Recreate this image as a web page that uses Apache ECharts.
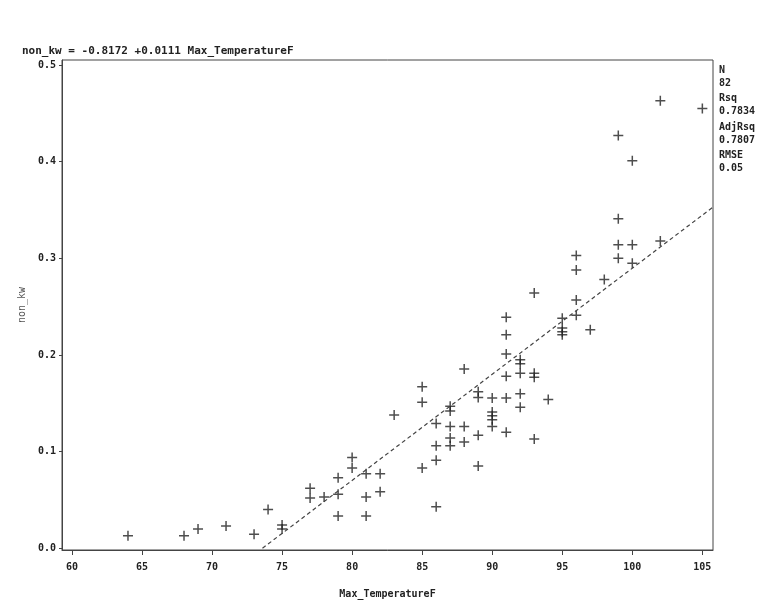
<!DOCTYPE html>
<html>
<head>
<meta charset="utf-8">
<script src="https://cdn.jsdelivr.net/npm/echarts@6/dist/echarts.min.js"></script>
<style>
	html, body { margin: 0; padding: 0; background: #fff; }
	#main { width: 764px; height: 612px; }
</style>
</head>
<body>
<div id="main"></div>
<script>
// observed points: Max_TemperatureF vs non_kw
var tempF = [64, 68, 69, 71, 73, 74, 75, 75, 77, 77,
	78, 79, 79, 79, 80, 80, 81, 81, 81, 82,
	82, 83, 85, 85, 85, 86, 86, 86, 86, 87,
	87, 87, 87, 87, 88, 88, 88, 89, 89, 89,
	89, 90, 90, 90, 90, 90, 91, 91, 91, 91,
	91, 91, 92, 92, 92, 92, 92, 93, 93, 93,
	93, 94, 95, 95, 95, 95, 96, 96, 96, 96,
	97, 98, 99, 99, 99, 99, 100, 100, 100, 102,
	102, 105];
var nonKw = [0.013, 0.013, 0.020, 0.023, 0.0145, 0.040, 0.024, 0.020, 0.062, 0.052,
	0.053, 0.073, 0.056, 0.0335, 0.094, 0.083, 0.077, 0.053, 0.0335, 0.077,
	0.0586, 0.138, 0.167, 0.151, 0.083, 0.129, 0.106, 0.091, 0.043, 0.147,
	0.142, 0.126, 0.114, 0.106, 0.1855, 0.126, 0.110, 0.162, 0.156, 0.117,
	0.085, 0.1555, 0.141, 0.137, 0.133, 0.126, 0.239, 0.221, 0.201, 0.178,
	0.1555, 0.120, 0.195, 0.191, 0.181, 0.160, 0.146, 0.264, 0.181, 0.177,
	0.113, 0.154, 0.238, 0.228, 0.224, 0.221, 0.303, 0.288, 0.257, 0.241,
	0.226, 0.278, 0.427, 0.341, 0.314, 0.300, 0.401, 0.314, 0.295, 0.463,
	0.318, 0.455];

// fitted line end points
var fitX = [73.6, 105.76];
var fitY = [0.0, 0.353];

var xTicks = [60, 65, 70, 75, 80, 85, 90, 95, 100, 105];
var yTicks = [0, 0.1, 0.2, 0.3, 0.4, 0.5];

var fitTitle = 'non_kw = -0.8172 +0.0111 Max_TemperatureF';
var statNames = ['N', 'Rsq', 'AdjRsq', 'RMSE'];
var statValues = ['82', '0.7834', '0.7807', '0.05'];

var mono = '"DejaVu Sans Mono", monospace';
var plus = 'path://M4.25 0H5.75V4.25H10V5.75H5.75V10H4.25V5.75H0V4.25H4.25Z';

var pts = tempF.map(function(t, i) { return [t, nonKw[i]]; });
var fitLine = fitX.map(function(t, i) { return [t, fitY[i]]; });

// right side statistics block
var statTexts = [];
var statTop = 65;
statNames.forEach(function(name, i) {
	statTexts.push({ type: 'text', left: 719, top: statTop, style: { text: name, font: 'bold 10px ' + mono, fill: '#222' } });
	statTexts.push({ type: 'text', left: 719, top: statTop + 13, style: { text: statValues[i], font: 'bold 10px ' + mono, fill: '#222' } });
	statTop += 28.5;
});

var myChart = echarts.init(document.getElementById('main'));
myChart.setOption({
	backgroundColor: '#fff',
	animation: false,
	title: {
		text: fitTitle,
		left: 17,
		top: 41,
		textStyle: { fontFamily: mono, fontSize: 11, fontWeight: 'bold', color: '#222' }
	},
	graphic: statTexts,
	grid: {
		left: 62,
		top: 60,
		right: 51,
		bottom: 62,
		show: true,
		borderColor: '#444',
		borderWidth: 1
	},
	xAxis: {
		type: 'value',
		min: 59.29,
		max: 105.76,
		name: 'Max_TemperatureF',
		nameLocation: 'middle',
		nameGap: 39,
		nameTextStyle: { fontFamily: mono, fontSize: 10, fontWeight: 'bold', color: '#222' },
		axisLine: { show: true, onZero: false, lineStyle: { color: '#444' } },
		axisTick: { show: true, length: 5, customValues: xTicks, lineStyle: { color: '#444' } },
		axisLabel: { customValues: xTicks, margin: 12, fontFamily: mono, fontSize: 10, fontWeight: 'bold', color: '#222' },
		splitLine: { show: false }
	},
	yAxis: {
		type: 'value',
		min: -0.0018,
		max: 0.5052,
		name: 'non_kw',
		nameLocation: 'middle',
		nameGap: 30,
		nameTextStyle: { fontFamily: mono, fontSize: 10, color: '#555' },
		axisLine: { show: true, onZero: false, lineStyle: { color: '#444' } },
		axisTick: { show: true, length: 3, customValues: yTicks, lineStyle: { color: '#444' } },
		axisLabel: {
			customValues: yTicks,
			margin: 6,
			fontFamily: mono, fontSize: 10, fontWeight: 'bold', color: '#222',
			formatter: function(v) { return v.toFixed(1); }
		},
		splitLine: { show: false }
	},
	series: [
		{
			type: 'line',
			data: fitLine,
			symbol: 'none',
			lineStyle: { color: '#444', width: 1.2, type: [4, 3] },
			silent: true
		},
		{
			type: 'scatter',
			data: pts,
			symbol: plus,
			symbolSize: 10,
			itemStyle: { color: '#222' }
		}
	]
});
</script>
</body>
</html>
